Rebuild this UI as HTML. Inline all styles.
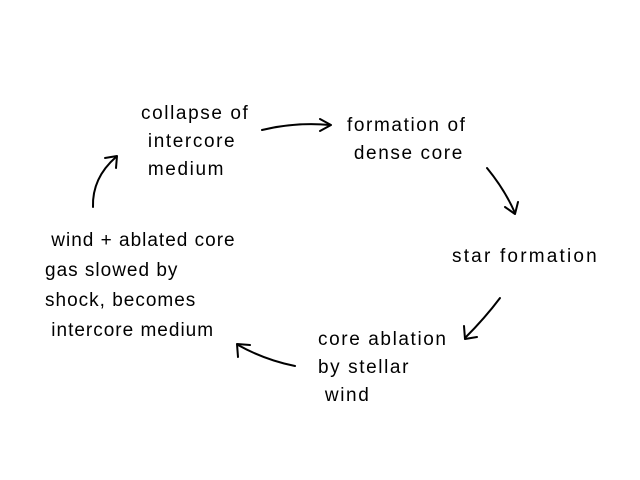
<!DOCTYPE html>
<html><head><style>
body{margin:0;width:640px;height:480px;background:#fff;position:relative;overflow:hidden;font-family:"Liberation Sans",sans-serif;color:#000}
.t{position:absolute;font-size:19px;line-height:28px;white-space:nowrap;letter-spacing:1.6px}
svg{position:absolute;left:0;top:0}
</style></head><body>
<div class="t" style="left:141px;top:100px">collapse of<br>&nbsp;intercore<br>&nbsp;medium</div>
<div class="t" style="left:347px;top:112px">formation of<br>&nbsp;dense core</div>
<div class="t" style="left:452px;top:243px;letter-spacing:2.2px">star formation</div>
<div class="t" style="left:318px;top:326px">core ablation<br>by stellar<br>&nbsp;wind</div>
<div class="t" style="left:45px;top:226px;line-height:30px;letter-spacing:1px">&nbsp;wind + ablated core<br>gas slowed by<br>shock, becomes<br>&nbsp;intercore medium</div>
<svg width="640" height="480" fill="none" stroke="#000" stroke-width="2" stroke-linecap="round" stroke-linejoin="round">
<path d="M262 130 Q295 122 330 125"/><path d="M320 119 L331 125 L320 131"/>
<path d="M487 168 Q505 190 515 213"/><path d="M505 207 L515 214 L518 202"/>
<path d="M500 298 Q485 318 465 338"/><path d="M464 326 L465 339 L477 337"/>
<path d="M295 366 Q265 360 238 345"/><path d="M238 357 L237 344 L250 345"/>
<path d="M93 207 Q92 178 116 157"/><path d="M105 158 L117 156 L116 168"/>
</svg>
</body></html>
